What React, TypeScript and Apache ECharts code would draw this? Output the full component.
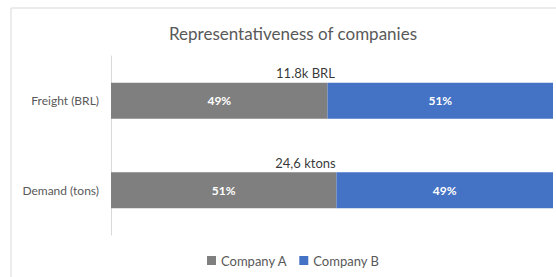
import React, { useEffect, useRef } from "react";
import * as echarts from "echarts";

const categories = ["Freight (BRL)", "Demand (tons)"];
const companyA = [49, 51];
const companyB = [51, 49];
const totals = ["11.8k BRL", "24,6 ktons"];
const totalLabelX = [44, 44];
const seriesNames = ["Company A", "Company B"];

const FONT = "Lato, 'Open Sans', sans-serif";

export default function App() {
  const ref = useRef<HTMLDivElement>(null);
  useEffect(() => {
    document.body.style.margin = "0";
    const chart = echarts.init(ref.current!, null, { renderer: "svg" });
    chart.setOption({
      animation: false,
      backgroundColor: "#ffffff",
      textStyle: { fontFamily: FONT },
      title: {
        text: "Representativeness of companies",
        left: 288,
        textAlign: "center",
        top: 20,
        textStyle: { fontFamily: FONT, fontSize: 17, fontWeight: "normal", color: "#595959" },
      },
      graphic: [
        {
          type: "rect",
          shape: { x: 11, y: 8, width: 560, height: 290 },
          style: { fill: "none", stroke: "#d9d9d9", lineWidth: 1 },
          silent: true,
        },
      ],
      legend: {
        data: seriesNames,
        bottom: 5,
        left: 202,
        itemGap: 12,
        itemWidth: 9,
        itemHeight: 9,
        icon: "rect",
        textStyle: { fontFamily: FONT, fontSize: 13, color: "#595959" },
      },
      grid: { left: 111, right: 3, top: 56, bottom: 42, containLabel: false },
      xAxis: {
        type: "value",
        min: 0,
        max: 100,
        show: false,
      },
      yAxis: {
        type: "category",
        data: categories,
        inverse: true,
        axisLine: { show: true, lineStyle: { color: "#d9d9d9" } },
        axisTick: { show: false },
        axisLabel: { fontFamily: FONT, fontSize: 12, color: "#595959", margin: 12 },
      },
      series: [
        {
          name: seriesNames[0],
          type: "bar",
          stack: "total",
          barWidth: 36,
          data: companyA,
          itemStyle: { color: "#7f7f7f" },
          label: {
            show: true,
            position: "inside",
            formatter: "{c}%",
            color: "#ffffff",
            fontWeight: "bold",
            fontSize: 12,
            fontFamily: FONT,
          },
        },
        {
          name: seriesNames[1],
          type: "bar",
          stack: "total",
          barWidth: 36,
          data: companyB,
          itemStyle: { color: "#4472c4" },
          label: {
            show: true,
            position: "inside",
            formatter: "{c}%",
            color: "#ffffff",
            fontWeight: "bold",
            fontSize: 12,
            fontFamily: FONT,
          },
        },
        {
          name: "totals",
          type: "scatter",
          symbolSize: 0,
          silent: true,
          data: categories.map((c, i) => [totalLabelX[i], c]),
          label: {
            show: true,
            position: "top",
            distance: 21,
            formatter: (p: any) => totals[p.dataIndex],
            color: "#000000",
            fontSize: 13,
            fontFamily: FONT,
          },
        },
      ],
    });
    return () => chart.dispose();
  }, []);
  return (
    <div
      ref={ref}
      style={{ width: 556, height: 277, position: "absolute", left: 0, top: 0 }}
    />
  );
}
